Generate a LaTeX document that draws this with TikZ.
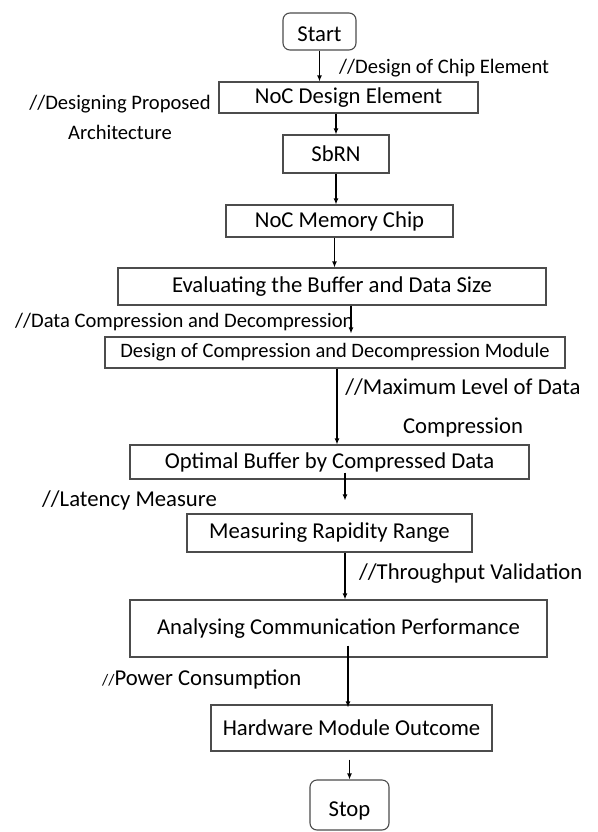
\documentclass[tikz,border=0pt]{standalone}
\usepackage{fontspec}
\setmainfont{Carlito}
\usetikzlibrary{arrows.meta}
\begin{document}
\begin{tikzpicture}[x=1pt,y=-1pt,
	every node/.style={font=\fontsize{22.7}{30}\selectfont},
	petit/.style={font=\fontsize{20.6}{30}\selectfont},
	boite/.style={draw=black!70,line width=1.1pt,inner sep=0pt},
	arrondi/.style={boite,rounded corners=7pt,text depth=0pt},
	fleche/.style={line width=1.3pt,-{Latex[length=6pt,width=5pt]}},
	note/.style={inner sep=0pt,align=center}] % organigramme de la conception

\useasboundingbox (0,0) rectangle (597,832);

\node[arrondi,minimum width=73pt,minimum height=37pt,text height=20pt] (start) at (319.5,31.5) {Start};
\node[arrondi,minimum width=79pt,minimum height=50pt,text height=22pt] (stop) at (349.5,805) {Stop};

\foreach \nom/\x/\y/\l/\h/\taille/\texte in {noc/348.5/97.5/259/31/22.7/NoC Design Element,
	sbrn/336/154/106/38/22.7/SbRN,
	mem/339.5/221/227/32/22.7/NoC Memory Chip,
	eval/332/286.5/428/37/22.7/Evaluating the Buffer and Data Size,
	dcomp/335/352.5/460/31/20.5/Design of Compression and Decompression Module,
	opt/329.5/462/399/34/22.7/Optimal Buffer by Compressed Data,
	meas/329.5/533/285/38/22.7/Measuring Rapidity Range,
	ana/338.5/628.5/417/57/22.7/Analysing Communication Performance,
	hw/351.5/728/281/46/22.7/Hardware Module Outcome} % boites du flot
{
	\node[boite,minimum width=\l pt,minimum height=\h pt,font=\fontsize{\taille}{30}\selectfont] (\nom) at (\x,\y) {\texte};
}

% commentaires
\node[note,petit,anchor=west] (l1) at (339,68) {//Design of Chip Element};
\node[note,petit] (l2) at (120,117) {//Designing Proposed\\Architecture};
\node[note,petit,anchor=west] (l3) at (15,322) {//Data Compression and Decompression};
\node[note] (l4) at (463,407.5) {//Maximum Level of Data\\[9pt]Compression};
\node[note,anchor=west] (l5) at (42,500) {//Latency Measure};
\node[note,anchor=west] (l6) at (359,574) {//Throughput Validation};
\node[note,anchor=west] (l7) at (102,679) {{\fontsize{16}{16}\selectfont//}Power Consumption};

% fleches
\draw[fleche] (start.south) -- (start.south |- noc.north);
\draw[fleche] (noc.south -| sbrn.north) -- (sbrn.north);
\draw[fleche] (sbrn.south) -- (sbrn.south |- mem.north);
\draw[fleche] ([xshift=-5pt]mem.south) -- ([xshift=-5pt]mem.south |- eval.north);
\draw[fleche] ([xshift=16pt]dcomp.north |- eval.south) -- ([xshift=16pt,yshift=3pt]dcomp.north);
\draw[fleche] ([xshift=2pt]dcomp.south) -- ([xshift=2pt]dcomp.south |- opt.north);
\draw[fleche] ([xshift=15.5pt,yshift=7pt]opt.south) -- ([xshift=15.5pt,yshift=13pt]meas.north);
\draw[fleche] ([xshift=15.5pt]meas.south) -- ([xshift=15.5pt]meas.south |- ana.north);
\draw[fleche] ([xshift=-3.5pt,yshift=12pt]hw.north |- ana.south) -- ([xshift=-3.5pt,yshift=-3pt]hw.north);
\draw[fleche] ([yshift=-8pt]stop.north |- hw.south) -- (stop.north);

\end{tikzpicture}
\end{document}
